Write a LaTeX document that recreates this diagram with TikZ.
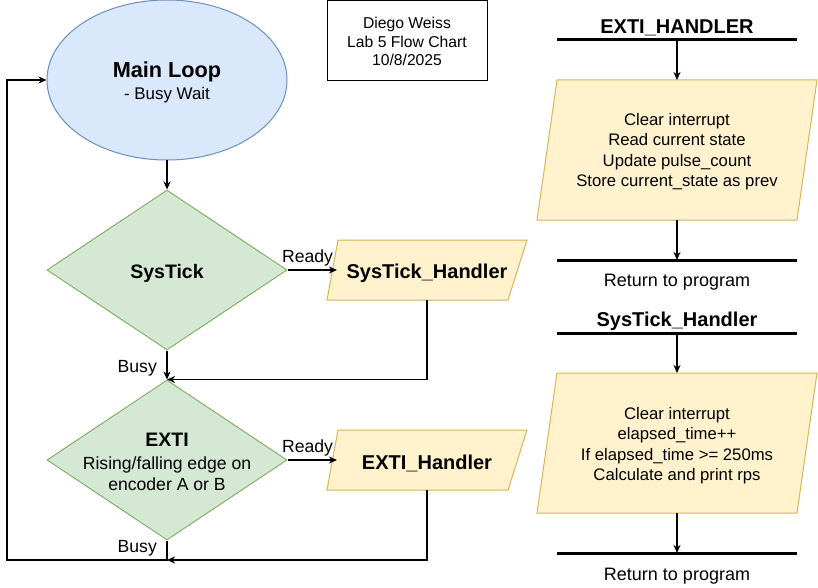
\documentclass[tikz,border=0pt]{standalone}
\usepackage{fontspec}
\setmainfont{Liberation Sans}
\usetikzlibrary{shapes.geometric,arrows.meta}
\definecolor{bluef}{HTML}{DAE8FC}
\definecolor{bluel}{HTML}{6C8EBF}
\definecolor{greenf}{HTML}{D5E8D4}
\definecolor{greenl}{HTML}{82B366}
\definecolor{yelf}{HTML}{FFF2CC}
\definecolor{yell}{HTML}{D6B656}
\begin{document}
\begin{tikzpicture}[x=1pt,y=-1pt,
  conn/.style={line width=1.3pt,-{Stealth[length=8pt,width=7pt,inset=2.5pt]}},
  bar/.style={line width=3pt},
  lbl/.style={inner sep=0pt,anchor=base},
  fbody/.style={font=\fontsize{16.7pt}{20pt}\selectfont},
  flab/.style={font=\fontsize{17.6pt}{21pt}\selectfont},
  fret/.style={font=\fontsize{18pt}{21pt}\selectfont},
  fauth/.style={font=\fontsize{15.7pt}{19pt}\selectfont},
  fbold/.style={font=\fontsize{20pt}{24pt}\selectfont\bfseries},
  fdec/.style={font=\fontsize{19.5pt}{23pt}\selectfont\bfseries},
  ghost/.style={inner sep=0pt,outer sep=0pt,minimum width=#1},
  para/.style={fill=yelf,draw=yell,line width=1pt}]
\useasboundingbox (0,0) rectangle (818,588);
% ---- author box
\node[draw,line width=1pt,minimum width=160pt,minimum height=80pt,inner sep=0pt] (auth) at (407,40.5) {};
\node[lbl,fauth] (a1) at (407,28.3) {Diego Weiss};
\node[lbl,fauth] (a2) at (407,47.3) {Lab 5 Flow Chart};
\node[lbl,fauth] (a3) at (407,66) {10/8/2025};
% ---- main loop
\node[ellipse,draw=bluel,fill=bluef,line width=1pt,minimum width=240pt,minimum height=160pt,inner sep=0pt] (main) at (167,80) {};
\node[lbl,font=\fontsize{21.7pt}{26pt}\selectfont\bfseries] (mt) at (167,78) {Main Loop};
\node[lbl,font=\fontsize{16.9pt}{20pt}\selectfont] (ms) at (167,100) {- Busy Wait};
% ---- SysTick decision
\node[diamond,draw=greenl,fill=greenf,line width=1pt,minimum width=240pt,minimum height=160pt,inner sep=0pt] (st) at (167,270) {};
\node[lbl,fdec] (stt) at (167,278) {SysTick};
% ---- EXTI decision
\node[diamond,draw=greenl,fill=greenf,line width=1pt,minimum width=240pt,minimum height=160pt,inner sep=0pt] (ex) at (167,460) {};
\node[lbl,fdec] (ext) at (167,446.7) {EXTI};
\node[lbl,flab] (ex2) at (167,469) {Rising/falling edge on};
\node[lbl,flab] (ex3) at (167,490) {encoder A or B};
% ---- SysTick_Handler box
\path[para] (338,240) -- (527,240) -- (508,300) -- (327,300) -- cycle;
\node[ghost=180pt,minimum height=60pt] (sth) at (427,270) {};
\node[lbl,fbold] (stht) at (427,278) {SysTick\_Handler};
% ---- EXTI_Handler box
\path[para] (338,430) -- (527,430) -- (508,490) -- (327,490) -- cycle;
\node[ghost=180pt,minimum height=60pt] (exh) at (427,460) {};
\node[lbl,fbold] (exht) at (427,469.3) {EXTI\_Handler};
% ---- left connectors
\coordinate (m2) at (167,560);
\coordinate (lb) at (7,560);
\draw[conn] (main.south) -- (st.north);
\draw[conn] (st.east) -- (sth.west);
\node[lbl,flab] (r1) at (307.5,262.7) {Ready};
\draw[conn] (sth.south) |- (ex.north);
\draw[conn] (st.south) -- (ex.north);
\node[lbl,flab,anchor=base east] (b1) at (157,372) {Busy};
\draw[conn] (ex.east) -- (exh.west);
\node[lbl,flab] (r2) at (307.5,452.7) {Ready};
\draw[conn] (exh.south) |- (m2);
\draw[conn] (ex.south) -- (m2) -- (lb) |- (main.west);
\node[lbl,flab,anchor=base east] (b2) at (157,552.7) {Busy};
% ---- EXTI_HANDLER routine
\node[lbl,fbold] (eht) at (677,33.3) {EXTI\_HANDLER};
\coordinate (eh) at (677,40);
\draw[bar] (557,40) -- (797,40);
\path[para] (557,80) -- (817,80) -- (797,220) -- (537,220) -- cycle;
\node[ghost=240pt,minimum height=140pt] (ehp) at (677,150) {};
\node[lbl,fbody] (e1) at (677,126) {Clear interrupt};
\node[lbl,fbody] (e2) at (677,146) {Read current state};
\node[lbl,fbody] (e3) at (677,166.7) {Update pulse\_count};
\node[lbl,fbody] (e4) at (677,186.7) {Store current\_state as prev};
\coordinate (er) at (677,260);
\draw[bar] (557,260) -- (797,260);
\draw[conn] (eh) -- (ehp.north);
\draw[conn] (ehp.south) -- (er);
\node[lbl,fret] (ert) at (677,286.7) {Return to program};
% ---- SysTick_Handler routine
\node[lbl,fbold] (sht) at (677,326.7) {SysTick\_Handler};
\coordinate (sh) at (677,333);
\draw[bar] (557,333) -- (797,333);
\path[para] (557,373) -- (817,373) -- (797,513) -- (537,513) -- cycle;
\node[ghost=240pt,minimum height=140pt] (shp) at (677,443) {};
\node[lbl,fbody] (s1) at (677,419.3) {Clear interrupt};
\node[lbl,fbody] (s2) at (677,439.3) {elapsed\_time++};
\node[lbl,fbody] (s3) at (677,460) {If elapsed\_time >= 250ms};
\node[lbl,fbody] (s4) at (677,480) {Calculate and print rps};
\coordinate (sr) at (677,553);
\draw[bar] (557,553) -- (797,553);
\draw[conn] (sh) -- (shp.north);
\draw[conn] (shp.south) -- (sr);
\node[lbl,fret] (srt) at (677,580) {Return to program};
\end{tikzpicture}
\end{document}
